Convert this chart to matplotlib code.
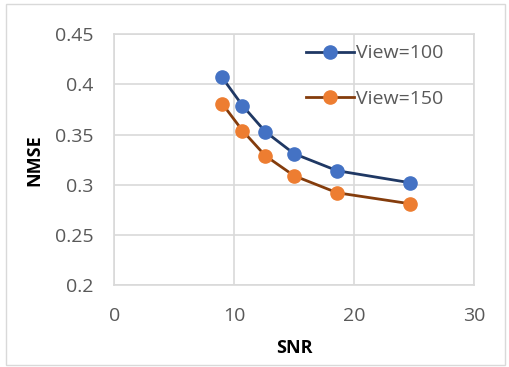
import matplotlib.pyplot as plt
from matplotlib.patches import Rectangle

snr = [9.0, 10.7, 12.6, 15.0, 18.6, 24.7]
nmse_100 = [0.407, 0.379, 0.353, 0.331, 0.314, 0.302]
nmse_150 = [0.381, 0.354, 0.329, 0.309, 0.292, 0.281]
labels = ['View=100', 'View=150']

plt.rcParams['font.family'] = ['Open Sans', 'DejaVu Sans']

fig = plt.figure(figsize=(5.1, 3.67), dpi=100)
ax = fig.add_axes([0.224, 0.2234, 0.705, 0.683])

ax.plot(snr, nmse_100, color='#1f3864', lw=2, marker='o', ms=9.5,
        mfc='#4472c4', mec='#4472c4', label=labels[0], zorder=3)
ax.plot(snr, nmse_150, color='#843c0c', lw=2, marker='o', ms=9.5,
        mfc='#ed7d31', mec='#ed7d31', label=labels[1], zorder=3)

ax.set_xlim(0, 30)
ax.set_ylim(0.2, 0.45)
ax.set_xticks([0, 10, 20, 30])
ax.set_yticks([0.2, 0.25, 0.3, 0.35, 0.4, 0.45])
ax.set_yticklabels(['0.2', '0.25', '0.3', '0.35', '0.4', '0.45'])
ax.grid(True, color='#d9d9d9', lw=1.2)
ax.set_axisbelow(True)
for s in ax.spines.values():
    s.set_color('#d9d9d9')
    s.set_linewidth(1.2)
ax.tick_params(length=0, labelsize=14, labelcolor='#595959')
ax.tick_params(axis='y', pad=15)
ax.tick_params(axis='x', pad=16)
ax.set_xlabel('SNR', fontsize=13, fontweight='bold', labelpad=10)
ax.set_ylabel('NMSE', fontsize=13, fontweight='bold', labelpad=8)

ax.legend(loc='upper right', frameon=False, fontsize=14, labelcolor='#595959',
          handlelength=2.5, handletextpad=0.1, labelspacing=1.4,
          bbox_to_anchor=(0.965, 1.03))

fig.patches.append(Rectangle((0.012, 0.005), 0.978, 0.985, transform=fig.transFigure,
                             fill=False, ec='#d9d9d9', lw=1))

fig.savefig('out.png', dpi=100)
